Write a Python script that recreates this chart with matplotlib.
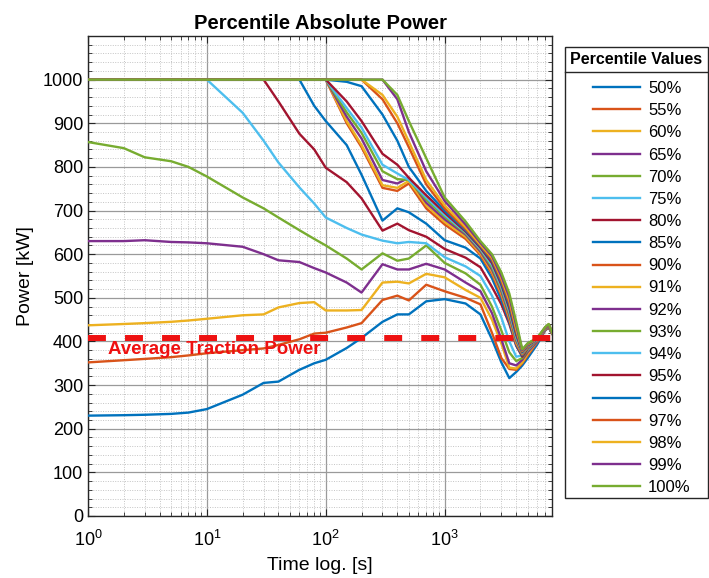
import matplotlib
matplotlib.use("Agg")
import matplotlib.pyplot as plt
from matplotlib.lines import Line2D
from matplotlib.patches import Rectangle
from matplotlib.ticker import LogLocator, MultipleLocator, NullFormatter

plt.rcParams['font.family'] = ['Liberation Sans', 'DejaVu Sans']
plt.rcParams['mathtext.default'] = 'regular'

# Time axis shared by all percentile curves [s]
time_s = [1, 2, 3, 5, 7, 10, 20, 30, 40, 60, 80, 100, 150, 200, 300, 400, 500, 700,
          1000, 1500, 2000, 2500, 3000, 3500, 4000, 4500, 5000, 6000, 7000, 7500, 8000]

# Power per percentile [kW]
p50 = [230, 231, 232, 234, 237, 245, 278, 305, 308, 335, 350, 358, 385, 408, 445, 462,
       462, 492, 497, 487, 462, 405, 352, 316, 330, 345, 362, 393, 425, 432, 418]
p55 = [352, 357, 360, 364, 368, 373, 380, 384, 392, 405, 418, 420, 432, 442, 495, 505,
       494, 530, 515, 500, 485, 420, 362, 337, 335, 350, 368, 398, 425, 433, 418]
p60 = [437, 440, 442, 445, 448, 452, 460, 462, 478, 488, 490, 471, 471, 472, 535, 537,
       533, 555, 547, 518, 500, 450, 395, 340, 338, 352, 372, 400, 426, 434, 418]
p65 = [630, 630, 632, 628, 627, 625, 617, 600, 586, 582, 568, 558, 535, 512, 577, 565,
       565, 578, 565, 535, 515, 465, 405, 350, 345, 358, 376, 400, 426, 434, 418]
p70 = [857, 843, 822, 813, 800, 778, 730, 705, 684, 655, 635, 620, 590, 565, 602, 585,
       590, 620, 580, 556, 530, 480, 425, 375, 355, 362, 380, 402, 427, 435, 418]
p75 = [1000, 1000, 1000, 1000, 1000, 1000, 924, 860, 810, 753, 716, 684, 660, 645, 631, 625,
       628, 625, 593, 572, 550, 505, 455, 400, 365, 368, 382, 402, 427, 435, 418]
p80 = [1000, 1000, 1000, 1000, 1000, 1000, 1000, 1000, 950, 876, 840, 798, 765, 728, 654, 670,
       655, 640, 612, 592, 570, 525, 485, 440, 390, 365, 384, 402, 427, 435, 418]
p85 = [1000, 1000, 1000, 1000, 1000, 1000, 1000, 1000, 1000, 1000, 940, 905, 850, 782, 677, 705,
       696, 670, 632, 615, 590, 545, 495, 445, 392, 368, 386, 402, 428, 436, 418]
p90 = [1000, 1000, 1000, 1000, 1000, 1000, 1000, 1000, 1000, 1000, 1000, 1000, 900, 845, 752, 745,
       762, 705, 668, 635, 598, 555, 505, 450, 395, 370, 386, 402, 428, 436, 418]
p91 = [1000, 1000, 1000, 1000, 1000, 1000, 1000, 1000, 1000, 1000, 1000, 1000, 905, 850, 758, 752,
       768, 712, 674, 640, 602, 560, 510, 455, 398, 372, 387, 403, 428, 436, 419]
p92 = [1000, 1000, 1000, 1000, 1000, 1000, 1000, 1000, 1000, 1000, 1000, 1000, 915, 865, 770, 762,
       775, 718, 680, 645, 606, 565, 515, 460, 402, 373, 388, 403, 428, 436, 419]
p93 = [1000, 1000, 1000, 1000, 1000, 1000, 1000, 1000, 1000, 1000, 1000, 1000, 925, 878, 790, 772,
       770, 725, 686, 648, 610, 570, 520, 465, 406, 374, 389, 404, 429, 437, 419]
p94 = [1000, 1000, 1000, 1000, 1000, 1000, 1000, 1000, 1000, 1000, 1000, 1000, 935, 890, 805, 785,
       770, 730, 690, 650, 612, 575, 525, 470, 410, 375, 390, 404, 429, 437, 420]
p95 = [1000, 1000, 1000, 1000, 1000, 1000, 1000, 1000, 1000, 1000, 1000, 1000, 950, 905, 830, 805,
       775, 735, 695, 652, 615, 580, 530, 476, 415, 376, 391, 405, 430, 437, 420]
p96 = [1000, 1000, 1000, 1000, 1000, 1000, 1000, 1000, 1000, 1000, 1000, 1000, 995, 985, 920, 860,
       800, 745, 700, 655, 618, 585, 535, 482, 420, 377, 392, 405, 430, 438, 420]
p97 = [1000, 1000, 1000, 1000, 1000, 1000, 1000, 1000, 1000, 1000, 1000, 1000, 1000, 1000, 955, 900,
       845, 760, 705, 658, 620, 588, 540, 488, 425, 378, 393, 406, 431, 438, 421]
p98 = [1000, 1000, 1000, 1000, 1000, 1000, 1000, 1000, 1000, 1000, 1000, 1000, 1000, 1000, 965, 915,
       858, 770, 712, 662, 622, 592, 545, 495, 430, 379, 394, 406, 431, 439, 421]
p99 = [1000, 1000, 1000, 1000, 1000, 1000, 1000, 1000, 1000, 1000, 1000, 1000, 1000, 1000, 1000, 955,
       880, 790, 722, 668, 626, 596, 550, 502, 437, 380, 395, 407, 432, 439, 422]
p100 = [1000, 1000, 1000, 1000, 1000, 1000, 1000, 1000, 1000, 1000, 1000, 1000, 1000, 1000, 1000, 965,
        905, 820, 730, 675, 630, 600, 558, 510, 445, 382, 396, 408, 433, 440, 422]

series = [p50, p55, p60, p65, p70, p75, p80, p85, p90, p91, p92, p93, p94, p95, p96, p97,
          p98, p99, p100]
labels = ['50%', '55%', '60%', '65%', '70%', '75%', '80%', '85%', '90%', '91%', '92%', '93%',
          '94%', '95%', '96%', '97%', '98%', '99%', '100%']

avg_traction_power = 408  # kW

# MATLAB-style color order
palette = ['#0072BD', '#D95319', '#EDB120', '#7E2F8E', '#77AC30', '#4DBEEE', '#A2142F']
edge = '#262626'

W, H = 709, 578
fig = plt.figure(figsize=(W / 100, H / 100), dpi=100)
ax = fig.add_axes([88 / W, 62 / H, 464 / W, 480 / H])

handles = []
for i, (vals, lab) in enumerate(zip(series, labels)):
    h, = ax.plot(time_s, vals, color=palette[i % 7], lw=1.7, label=lab, zorder=3)
    handles.append(h)

ax.axhline(avg_traction_power, color='#EE1111', lw=4.3, dashes=(3, 3.2), zorder=4)
ax.text(1.47, 382, 'Average Traction Power', color='#EE1111', fontsize=13.5,
        fontweight='bold', ha='left', va='center', zorder=5)

ax.set_xscale('log')
ax.set_xlim(1, 8000)
ax.set_ylim(0, 1100)
ax.xaxis.set_major_locator(LogLocator(base=10, numticks=10))
ax.xaxis.set_minor_locator(LogLocator(base=10, subs=range(2, 10), numticks=20))
ax.xaxis.set_minor_formatter(NullFormatter())
ax.yaxis.set_major_locator(MultipleLocator(100))
ax.yaxis.set_minor_locator(MultipleLocator(20))
ax.set_yticks(range(0, 1001, 100))

ax.grid(which='major', color='#9a9a9a', lw=0.9, ls='-', zorder=0)
ax.grid(which='minor', color='#c4c4c4', lw=0.7, ls=(0, (1, 1.5)), zorder=0)
ax.set_axisbelow(True)

ax.tick_params(which='both', direction='in', top=True, right=True, labelsize=13, color=edge)
ax.tick_params(which='major', length=5, width=0.8)
ax.tick_params(which='minor', length=3, width=0.6)
ax.tick_params(axis='x', pad=10)
for s in ax.spines.values():
    s.set_color(edge)
    s.set_linewidth(1.0)

ax.set_xlabel('Time log. [s]', fontsize=14, labelpad=5)
ax.set_ylabel('Power [kW]', fontsize=14, labelpad=6)
ax.set_title('Percentile Absolute Power', fontsize=14.5, fontweight='bold', pad=5)

# Legend: entries without frame, framed box with a titled header drawn around them
leg = fig.legend(handles, labels, loc='upper left',
                 bbox_to_anchor=(593 / W, 1 - 81 / H), bbox_transform=fig.transFigure,
                 fontsize=12, frameon=False, borderaxespad=0, borderpad=0,
                 labelspacing=0.43, handlelength=2.8, handletextpad=0.5)

fig.canvas.draw()
lb = leg.get_window_extent(fig.canvas.get_renderer())
box_left, box_right, box_top = 565, 707.5, H - 47
box_bottom = lb.y0 - 3
fig.add_artist(Rectangle((box_left, box_bottom), box_right - box_left, box_top - box_bottom,
                         transform=None, fill=True, facecolor='white', edgecolor=edge,
                         lw=1.0, zorder=-1))
sep_y = H - 72
fig.add_artist(Line2D([box_left, box_right], [sep_y, sep_y], transform=None, color=edge, lw=1.0))
fig.text((box_left + box_right) / 2 / W, (box_top + sep_y) / 2 / H, 'Percentile Values',
         ha='center', va='center', fontsize=11.5, fontweight='bold')

fig.savefig('out.png', dpi=100)
